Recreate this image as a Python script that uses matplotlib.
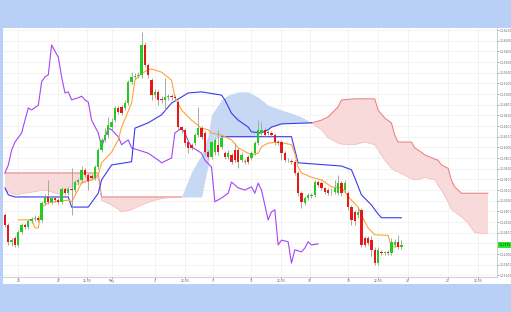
import numpy as np
import matplotlib
matplotlib.use("Agg")
import matplotlib.pyplot as plt
from matplotlib.patches import Rectangle

# Candles (one per period)
opens = [
    1.1273, 1.1255, 1.1223, 1.1230, 1.1217, 1.1241, 1.1255, 1.1251, 1.1261, 1.1266,
    1.1268, 1.1264, 1.1296, 1.1307, 1.1298, 1.1305, 1.1301, 1.1298, 1.1322, 1.1314,
    1.1322, 1.1320, 1.1335, 1.1339, 1.1358, 1.1348, 1.1346, 1.1343, 1.1363, 1.1395,
    1.1414, 1.1423, 1.1438, 1.1451, 1.1474, 1.1476, 1.1474, 1.1483, 1.1523, 1.1532,
    1.1534, 1.1536, 1.1592, 1.1554, 1.1526, 1.1498, 1.1504, 1.1491, 1.1489, 1.1494,
    1.1496, 1.1494, 1.1485, 1.1438, 1.1433, 1.1410, 1.1405, 1.1408, 1.1423, 1.1436,
    1.1427, 1.1391, 1.1382, 1.1391, 1.1405, 1.1401, 1.1389, 1.1382, 1.1386, 1.1395,
    1.1395, 1.1376, 1.1373, 1.1382, 1.1380, 1.1389, 1.1408, 1.1427, 1.1433, 1.1429,
    1.1427, 1.1423, 1.1410, 1.1410, 1.1389, 1.1376, 1.1374, 1.1373, 1.1352, 1.1314,
    1.1296, 1.1305, 1.1309, 1.1311, 1.1335, 1.1333, 1.1324, 1.1320, 1.1316, 1.1316,
    1.1314, 1.1333, 1.1320, 1.1314, 1.1288, 1.1279, 1.1273, 1.1283, 1.1230, 1.1230,
    1.1226, 1.1208, 1.1183, 1.1204, 1.1202, 1.1204, 1.1202, 1.1217, 1.1223, 1.1213,
]
closes = [
    1.1255, 1.1223, 1.1226, 1.1217, 1.1241, 1.1255, 1.1251, 1.1261, 1.1266, 1.1268,
    1.1264, 1.1296, 1.1307, 1.1298, 1.1305, 1.1301, 1.1298, 1.1322, 1.1314, 1.1322,
    1.1320, 1.1335, 1.1339, 1.1358, 1.1348, 1.1337, 1.1343, 1.1363, 1.1395, 1.1414,
    1.1423, 1.1442, 1.1448, 1.1474, 1.1466, 1.1464, 1.1483, 1.1523, 1.1532, 1.1534,
    1.1536, 1.1592, 1.1554, 1.1536, 1.1498, 1.1504, 1.1489, 1.1489, 1.1494, 1.1496,
    1.1494, 1.1493, 1.1438, 1.1433, 1.1408, 1.1399, 1.1399, 1.1423, 1.1436, 1.1420,
    1.1391, 1.1382, 1.1410, 1.1414, 1.1391, 1.1418, 1.1382, 1.1389, 1.1373, 1.1376,
    1.1373, 1.1386, 1.1374, 1.1373, 1.1389, 1.1408, 1.1433, 1.1433, 1.1423, 1.1427,
    1.1423, 1.1410, 1.1408, 1.1389, 1.1376, 1.1377, 1.1373, 1.1352, 1.1314, 1.1298,
    1.1305, 1.1311, 1.1311, 1.1335, 1.1329, 1.1324, 1.1316, 1.1314, 1.1317, 1.1324,
    1.1333, 1.1314, 1.1333, 1.1288, 1.1264, 1.1261, 1.1279, 1.1217, 1.1217, 1.1221,
    1.1208, 1.1183, 1.1208, 1.1202, 1.1203, 1.1202, 1.1223, 1.1223, 1.1213, 1.12175,
]
highs = [
    1.1277, 1.1258, 1.1230, 1.1234, 1.1245, 1.1259, 1.1259, 1.1265, 1.1270, 1.1273,
    1.1272, 1.1300, 1.1312, 1.1339, 1.1309, 1.1309, 1.1305, 1.1326, 1.1326, 1.1326,
    1.1361, 1.1339, 1.1343, 1.1365, 1.1361, 1.1352, 1.1350, 1.1367, 1.1399, 1.1418,
    1.1436, 1.1457, 1.1455, 1.1478, 1.1478, 1.1480, 1.1489, 1.1526, 1.1541, 1.1539,
    1.1541, 1.1616, 1.1598, 1.1558, 1.1530, 1.1510, 1.1508, 1.1496, 1.1530, 1.1500,
    1.1500, 1.1498, 1.1489, 1.1440, 1.1436, 1.1414, 1.1408, 1.1427, 1.1476, 1.1440,
    1.1431, 1.1395, 1.1414, 1.1418, 1.1433, 1.1423, 1.1393, 1.1395, 1.1389, 1.1408,
    1.1399, 1.1391, 1.1378, 1.1386, 1.1393, 1.1412, 1.1451, 1.1448, 1.1436, 1.1433,
    1.1431, 1.1427, 1.1414, 1.1414, 1.1393, 1.1380, 1.1378, 1.1376, 1.1356, 1.1318,
    1.1309, 1.1314, 1.1314, 1.1339, 1.1339, 1.1337, 1.1326, 1.1324, 1.1324, 1.1339,
    1.1348, 1.1337, 1.1339, 1.1318, 1.1292, 1.1283, 1.1286, 1.1286, 1.1234, 1.1234,
    1.1234, 1.1213, 1.1213, 1.1208, 1.1206, 1.1208, 1.1230, 1.1228, 1.1236, 1.1226,
]
lows = [
    1.1250, 1.1217, 1.1215, 1.1213, 1.1213, 1.1238, 1.1247, 1.1247, 1.1258, 1.1262,
    1.1260, 1.1260, 1.1292, 1.1294, 1.1294, 1.1298, 1.1294, 1.1294, 1.1311, 1.1311,
    1.1273, 1.1316, 1.1329, 1.1335, 1.1345, 1.1320, 1.1339, 1.1339, 1.1360, 1.1391,
    1.1410, 1.1418, 1.1433, 1.1448, 1.1463, 1.1460, 1.1470, 1.1480, 1.1519, 1.1528,
    1.1530, 1.1530, 1.1550, 1.1530, 1.1489, 1.1493, 1.1480, 1.1483, 1.1470, 1.1489,
    1.1489, 1.1487, 1.1433, 1.1427, 1.1403, 1.1389, 1.1395, 1.1405, 1.1420, 1.1416,
    1.1386, 1.1378, 1.1378, 1.1386, 1.1386, 1.1397, 1.1378, 1.1378, 1.1369, 1.1373,
    1.1361, 1.1373, 1.1369, 1.1369, 1.1376, 1.1386, 1.1405, 1.1423, 1.1420, 1.1423,
    1.1420, 1.1405, 1.1405, 1.1376, 1.1373, 1.1373, 1.1369, 1.1348, 1.1309, 1.1286,
    1.1292, 1.1301, 1.1305, 1.1307, 1.1326, 1.1320, 1.1313, 1.1311, 1.1311, 1.1313,
    1.1311, 1.1309, 1.1316, 1.1283, 1.1255, 1.1255, 1.1268, 1.1213, 1.1213, 1.1217,
    1.1197, 1.1179, 1.1179, 1.1198, 1.1198, 1.1198, 1.1198, 1.1213, 1.1209, 1.1209,
]

# Tenkan (orange)
tenkan_idx = [4, 8, 9, 10, 11, 13, 19, 20, 23, 26, 28, 29, 32, 34, 35, 38, 39, 41, 43, 44,
              47, 50, 51, 53, 56, 59, 61, 62, 65, 68, 70, 73, 74, 76, 77, 79, 82, 86, 87, 88,
              89, 92, 95, 98, 101, 104, 106, 107, 109, 111, 115, 116, 119]
tenkan_val = [1.1264, 1.1264, 1.1249, 1.1249, 1.1288, 1.1296, 1.1301, 1.1298, 1.1333, 1.1339,
              1.1348, 1.1371, 1.1391, 1.1414, 1.1438, 1.1483, 1.1526, 1.1539, 1.1545, 1.1547,
              1.1541, 1.1526, 1.1494, 1.1470, 1.1451, 1.1436, 1.1433, 1.1427, 1.1423, 1.1414,
              1.1399, 1.1389, 1.1386, 1.1389, 1.1401, 1.1408, 1.1410, 1.1405, 1.1389, 1.1363,
              1.1352, 1.1344, 1.1339, 1.1326, 1.1324, 1.1301, 1.1288, 1.1273, 1.1249, 1.1236,
              1.1235, 1.1213, 1.1215]

# Dark blue line (left part)
blue1_idx = [0, 1, 3, 19, 20, 25, 28, 29, 32, 38, 39, 43, 47, 50, 55, 59, 65, 66, 68, 70,
             73, 74, 77, 79, 80, 83, 92]
blue1_val = [1.1324, 1.1311, 1.1307, 1.1307, 1.1288, 1.1288, 1.1314, 1.1339, 1.1367, 1.1373,
             1.1436, 1.1446, 1.1461, 1.1483, 1.1502, 1.1504, 1.1498, 1.1489, 1.1464, 1.1451,
             1.1438, 1.1429, 1.1427, 1.1433, 1.1438, 1.1444, 1.1446]

# Dark blue line (right part)
blue2_idx = [65, 86, 88, 101, 104, 105, 107, 110, 112, 113, 119]
blue2_val = [1.1420, 1.1420, 1.1371, 1.1365, 1.1358, 1.1343, 1.1311, 1.1292, 1.1275, 1.1268, 1.1268]

# Lagging line (purple)
lag_idx = [0, 1, 2, 3, 5, 6, 7, 8, 10, 11, 12, 13, 14, 16, 17, 18, 19, 20, 22, 23,
           24, 25, 26, 28, 29, 31, 32, 34, 35, 37, 38, 40, 43, 46, 47, 50, 51, 53, 54, 55,
           56, 59, 60, 62, 63, 65, 67, 68, 70, 72, 74, 75, 76, 77, 79, 80, 81, 82, 83, 85,
           86, 87, 89, 90, 91, 92, 94]
lag_val = [1.1352, 1.1367, 1.1395, 1.1410, 1.1427, 1.1451, 1.1474, 1.1470, 1.1479, 1.1523,
           1.1532, 1.1536, 1.1592, 1.1569, 1.1532, 1.1502, 1.1504, 1.1489, 1.1493, 1.1496,
           1.1489, 1.1485, 1.1451, 1.1427, 1.1401, 1.1436, 1.1433, 1.1420, 1.1405, 1.1414,
           1.1399, 1.1395, 1.1389, 1.1376, 1.1371, 1.1380, 1.1427, 1.1436, 1.1427, 1.1412,
           1.1401, 1.1389, 1.1376, 1.1363, 1.1298, 1.1305, 1.1314, 1.1335, 1.1324, 1.1320,
           1.1326, 1.1314, 1.1333, 1.1320, 1.1264, 1.1279, 1.1283, 1.1217, 1.1226, 1.1223,
           1.1183, 1.1208, 1.1204, 1.1211, 1.1223, 1.1217, 1.1219]

# Cloud spans
cloud_idx = [0, 3, 8, 12, 17, 19, 23, 28, 29, 32, 35, 38, 41, 45, 48, 53, 56, 59, 61, 62,
             65, 67, 70, 73, 76, 79, 83, 86, 89, 92, 95, 97, 100, 101, 105, 108, 111, 112, 114, 116,
             117, 118, 122, 123, 125, 126, 129, 130, 131, 133, 134, 135, 137, 139, 141, 145]
span_a = [1.1320, 1.1311, 1.1316, 1.1320, 1.1311, 1.1324, 1.1333, 1.1343, 1.1301, 1.1292,
          1.1279, 1.1283, 1.1292, 1.1301, 1.1305, 1.1307, 1.1354, 1.1386, 1.1423, 1.1461,
          1.1489, 1.1498, 1.1504, 1.1504, 1.1494, 1.1479, 1.1470, 1.1464, 1.1457, 1.1446,
          1.1433, 1.1418, 1.1408, 1.1406, 1.1405, 1.1410, 1.1405, 1.1395, 1.1376, 1.1361,
          1.1356, 1.1354, 1.1341, 1.1339, 1.1341, 1.1344, 1.1339, 1.1329, 1.1320, 1.1298,
          1.1284, 1.1279, 1.1270, 1.1258, 1.1240, 1.1238]
span_b = [1.1352, 1.1352, 1.1352, 1.1352, 1.1352, 1.1352, 1.1352, 1.1352, 1.1307, 1.1307,
          1.1307, 1.1307, 1.1307, 1.1307, 1.1307, 1.1307, 1.1307, 1.1307, 1.1367, 1.1414,
          1.1420, 1.1420, 1.1420, 1.1420, 1.1423, 1.1436, 1.1444, 1.1446, 1.1446, 1.1446,
          1.1451, 1.1457, 1.1476, 1.1489, 1.1491, 1.1491, 1.1491, 1.1470, 1.1455, 1.1446,
          1.1423, 1.1410, 1.1410, 1.1399, 1.1391, 1.1386, 1.1378, 1.1376, 1.1367, 1.1361,
          1.1339, 1.1326, 1.1314, 1.1314, 1.1314, 1.1314]

# Axis labels
x_tick_idx = [4, 16, 24.5, 32, 45, 54, 62.5, 74, 83, 91.5, 103, 112, 121, 133, 142]
x_tick_labels = ['23', '27', '12:00', 'May', '4', '12:00', '9', '11', '12:00', '16',
                 '18', '12:00', '23', '25', '12:00']
y_ticks = [1.116, 1.118, 1.120, 1.122, 1.124, 1.126, 1.128, 1.130, 1.132, 1.134, 1.136, 1.138,
           1.140, 1.142, 1.144, 1.146, 1.148, 1.150, 1.152, 1.154, 1.156, 1.158, 1.160, 1.162]
last_label = '1.12175'

W, H = 511, 312
fig = plt.figure(figsize=(W / 100, H / 100), dpi=100)
fig.patch.set_facecolor('#b8d0f6')
# white chart panel behind the axes
fig.patches.append(Rectangle((3 / W, 28 / H), 508 / W, 256 / H, transform=fig.transFigure,
                             facecolor='white', edgecolor='none', zorder=-5))
ax = fig.add_axes([3 / W, 35 / H, 494 / W, 249 / H])
ax.set_zorder(1)
ax.set_facecolor('white')

# Cloud
ci = np.array(cloud_idx)
sa = np.array(span_a)
sb = np.array(span_b)
ax.fill_between(ci, sa, sb, where=sb >= sa, interpolate=True, color='#f9dada', lw=0, zorder=1)
ax.fill_between(ci, sa, sb, where=sa >= sb, interpolate=True, color='#c6d8f4', lw=0, zorder=1)
ax.plot(ci, np.where(sb >= sa, sb, np.nan), color='#ea7a7a', lw=0.7, zorder=2)
ax.plot(ci, np.where(sb >= sa, sa, np.nan), color='#f2b8b8', lw=0.5, zorder=2)

# Lines
ax.plot(lag_idx, lag_val, color='#a545f5', lw=0.8, zorder=3)
ax.plot(blue1_idx, blue1_val, color='#3a3af0', lw=0.8, zorder=3)
ax.plot(blue2_idx, blue2_val, color='#3a3af0', lw=0.8, zorder=3)
ax.plot(tenkan_idx, tenkan_val, color='#ffa336', lw=0.8, zorder=3)

# Candles
idx = np.arange(len(closes))
o = np.array(opens)
c = np.array(closes)
up = c >= o
ax.vlines(idx, lows, highs, color='#9aa08a', lw=0.6, zorder=4)
body = np.maximum(np.abs(c - o), 0.00006)
ax.bar(idx, body, bottom=np.minimum(o, c), width=0.7,
       color=np.where(up, '#22cc22', '#e81818'), lw=0, zorder=5)

# Axes styling
ax.set_xlim(-0.6, 147.7)
ax.set_ylim(1.11569, 1.16238)
ax.set_xticks(x_tick_idx)
ax.set_xticklabels(x_tick_labels)
ax.set_yticks(y_ticks)
# the 1.12200 label sits under the last price tag
ax.set_yticklabels(['' if abs(v - 1.122) < 1e-9 else '%.5f' % v for v in y_ticks])
ax.yaxis.tick_right()
ax.tick_params(axis='both', labelsize=2.2, colors='#666666', length=1.2, width=0.4, pad=0.5)
ax.grid(True, color='#eeeeee', lw=0.5)
ax.set_axisbelow(True)
for s in ['left', 'top']:
    ax.spines[s].set_visible(False)
for s in ['right', 'bottom']:
    ax.spines[s].set_color('#c8c8c8')
    ax.spines[s].set_linewidth(0.6)

# Last price tag
ax.text(1.004, closes[-1], last_label, transform=ax.get_yaxis_transform(), fontsize=2.2,
        va='center', ha='left', color='#222222', clip_on=False, zorder=10,
        bbox=dict(boxstyle='square,pad=0.3', fc='#22ee22', ec='none'))

fig.savefig('out.png', dpi=100, facecolor=fig.get_facecolor())
